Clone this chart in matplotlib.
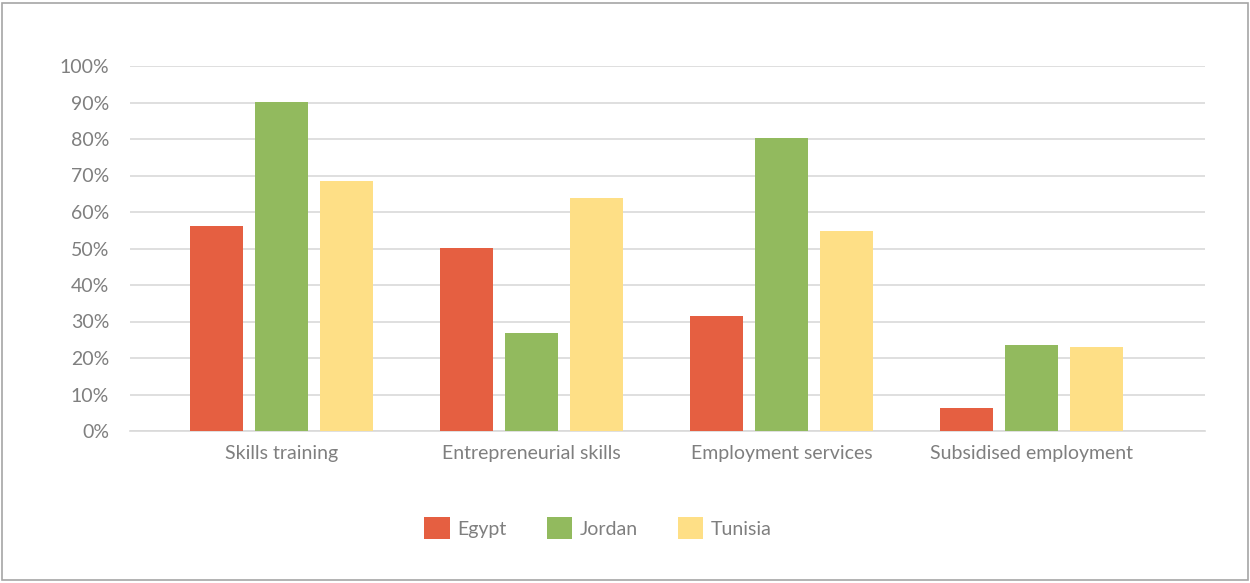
import matplotlib
matplotlib.use("Agg")
import matplotlib.pyplot as plt
from matplotlib.patches import Rectangle, Patch
import numpy as np

categories = ["Skills training", "Entrepreneurial skills", "Employment services", "Subsidised employment"]
series_names = ["Egypt", "Jordan", "Tunisia"]
egypt = [56.3, 50.2, 31.5, 6.3]
jordan = [90.2, 26.8, 80.4, 23.6]
tunisia = [68.5, 63.9, 54.8, 23.1]
y_ticks = [0, 10, 20, 30, 40, 50, 60, 70, 80, 90, 100]

colors = ["#E55F41", "#92BA5E", "#FEDF86"]
text_color = "#7F7F7F"
grid_color = "#D9D9D9"

plt.rcParams['font.family'] = ['Lato', 'DejaVu Sans']

fig = plt.figure(figsize=(12.5, 5.83), dpi=100)
ax = fig.add_axes([130/1250, 1-431/583, (1205-130)/1250, (431-66)/583])

x = np.arange(len(categories))
w = 0.212
off = 0.26
for i, (vals, c, name) in enumerate(zip([egypt, jordan, tunisia], colors, series_names)):
    ax.bar(x + (i-1)*off, vals, width=w, color=c, label=name, zorder=3)

ax.set_xlim(-0.606, 3.694)
ax.set_ylim(0, 100)
ax.set_yticks(y_ticks)
ax.set_yticklabels([f"{v}%" for v in y_ticks])
ax.set_xticks(x)
ax.set_xticklabels(categories)
ax.tick_params(axis='both', length=0, labelsize=14, colors=text_color)
ax.tick_params(axis='x', pad=10)
ax.tick_params(axis='y', pad=15)
ax.grid(axis='y', color=grid_color, linewidth=1.2, zorder=0)
for s in ['top', 'right', 'left']:
    ax.spines[s].set_visible(False)
ax.spines['bottom'].set_color(grid_color)
ax.spines['bottom'].set_linewidth(1.2)

handles = [Patch(facecolor=c, label=n) for c, n in zip(colors, series_names)]
fig.legend(handles=handles, loc='center', bbox_to_anchor=(598/1250, 1-528/583),
           ncol=3, frameon=False, fontsize=14, labelcolor=text_color,
           handlelength=1.3, handleheight=1.3, columnspacing=2.05, handletextpad=0.4)

fig.patches.append(Rectangle((2/1250, 3/583), 1246/1250, 577/583, transform=fig.transFigure,
                             fill=False, edgecolor="#A6A6A6", linewidth=1.2))

fig.savefig("out.png", dpi=100)
